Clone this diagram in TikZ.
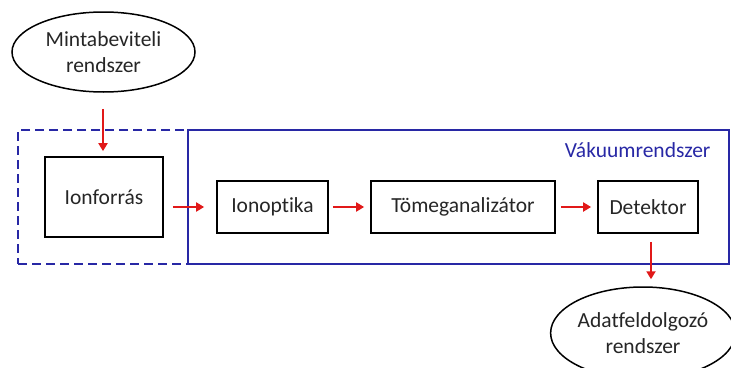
\documentclass[tikz,border=0pt]{standalone}
\usepackage{fontspec}
\setmainfont{Carlito}[Ligatures=NoCommon]
\usetikzlibrary{arrows.meta,shapes.geometric}
\definecolor{vblue}{RGB}{40,40,165}
\definecolor{ared}{RGB}{225,25,25}
\begin{document}
\begin{tikzpicture}[x=1pt,y=-1pt,
  every node/.style={font=\fontsize{21.5}{26.5}\selectfont, text=black!85},
  blk/.style={draw=black, line width=1.7pt, inner sep=0pt},
  oval/.style={ellipse, draw=black, line width=1.5pt, inner sep=0pt, align=center},
  arr/.style={draw=ared, line width=2pt, -{Triangle[length=8pt,width=9pt]}},
  vac/.style={draw=vblue, line width=1.7pt, inner sep=0pt},
  vacdash/.style={vac, dash pattern=on 9pt off 5pt}]
\useasboundingbox (0,0) rectangle (731,367);
\node[vacdash, minimum width=170pt, minimum height=134pt] (pre) at (103,197) {};
\node[vac, minimum width=541pt, minimum height=134pt] (vak) at (458.5,197) {};
\node[anchor=east, text=vblue] (vlabel) at (714,150) {Vákuumrendszer};
\node[oval, minimum width=183pt, minimum height=80pt] (in) at (103.5,52) {Mintabeviteli\\rendszer};
\node[blk, minimum width=118pt, minimum height=80pt] (src) at (104,197) {Ionforrás};
\node[blk, minimum width=111pt, minimum height=52pt] (opt) at (272.5,207) {Ionoptika};
\node[blk, minimum width=184pt, minimum height=52pt] (tom) at (463,207) {Tömeganalizátor};
\node[blk, minimum width=100pt, minimum height=52pt] (det) at (648,207) {Detektor};
\node[oval, minimum width=170pt, minimum height=92pt] (out) at (643,333) {Adatfeldolgozó\\rendszer};
\draw[arr, shorten <=16pt, shorten >=5pt] ([xshift=-0.5pt]in.south) -- ([xshift=-0.5pt]in.south |- src.north);
\draw[arr, shorten <=9pt, shorten >=12pt] (src.east |- opt.west) -- (opt.west);
\draw[arr, shorten <=4pt, shorten >=6pt] (opt) -- (tom);
\draw[arr, shorten <=5pt, shorten >=6pt] (tom) -- (det);
\draw[arr, shorten <=8pt, shorten >=7pt] ([xshift=3pt]det.south) -- ([xshift=3pt]det.south |- out.north);
\end{tikzpicture}
\end{document}
